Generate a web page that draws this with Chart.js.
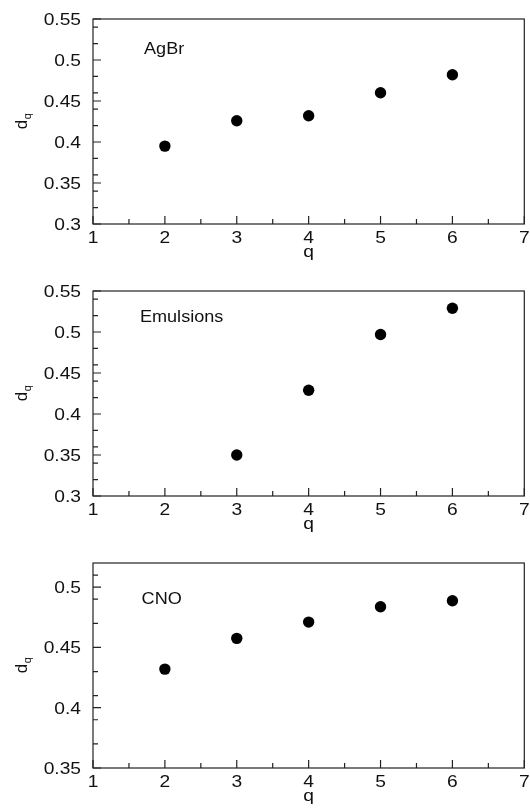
<!DOCTYPE html>
<html lang="en">
<head>
  <meta charset="UTF-8">
  <title>d_q versus q</title>
  <script src="https://cdn.jsdelivr.net/npm/chart.js"></script>
  <style>
    body {
      margin: 0;
      background: #ffffff;
    }
    .panel {
      position: absolute;
      left: 0;
      width: 530px;
      height: 272px;
    }
  </style>
</head>
<body>
  <div class="panel" style="top:0px"><canvas id="agbr" width="530" height="272"></canvas></div>
  <div class="panel" style="top:272px"><canvas id="emul" width="530" height="272"></canvas></div>
  <div class="panel" style="top:544px"><canvas id="cno" width="530" height="272"></canvas></div>

  <script>
    // q values and d_q for each target group
    const agbrQ = [2, 3, 4, 5, 6];
    const agbrD = [0.395, 0.426, 0.432, 0.460, 0.482];

    const emulQ = [3, 4, 5, 6];
    const emulD = [0.350, 0.429, 0.497, 0.529];

    const cnoQ = [2, 3, 4, 5, 6];
    const cnoD = [0.432, 0.4575, 0.471, 0.4837, 0.4887];

    // axis ticks (major ones get labels)
    const qMajor = [1, 2, 3, 4, 5, 6, 7];
    const qMinor = [1.5, 2.5, 3.5, 4.5, 5.5, 6.5];

    const dMajorA = [0.3, 0.35, 0.4, 0.45, 0.5, 0.55];
    const dMinorA = [0.32, 0.34, 0.36, 0.38, 0.42, 0.44, 0.46, 0.48, 0.52, 0.54];

    const dMajorC = [0.35, 0.4, 0.45, 0.5];
    const dMinorC = [0.37, 0.39, 0.41, 0.43, 0.47, 0.49, 0.51];

    const FONT = '"Liberation Sans", Arial, Helvetica, sans-serif';
    const INK = '#111';
    const WIDE = 1.2;   // the plot's lettering is set a bit wide

    function tickList(major, minor) {
      return major.concat(minor).sort((a, b) => a - b).map(v => ({ value: v }));
    }

    function isMajor(list, v) {
      return list.some(m => Math.abs(m - v) < 1e-9);
    }

    function wideText(ctx, text, x, y, align, size, sx) {
      ctx.save();
      ctx.translate(x, y);
      ctx.scale(sx, 1);
      ctx.font = size + 'px ' + FONT;
      ctx.textAlign = align;
      ctx.textBaseline = 'alphabetic';
      ctx.fillText(text, 0, 0);
      ctx.restore();
    }

    // frame, inward ticks, tick labels, axis titles and the panel name
    const panelDecor = {
      id: 'panelDecor',
      afterDraw(chart, args, opts) {
        const ctx = chart.ctx;
        const a = chart.chartArea;
        const xs = chart.scales.x;
        const ys = chart.scales.y;
        ctx.save();
        ctx.strokeStyle = '#222';
        ctx.lineWidth = 1.2;
        ctx.strokeRect(a.left, a.top, a.right - a.left, a.bottom - a.top);

        ctx.beginPath();
        xs.ticks.forEach(t => {
          const px = xs.getPixelForValue(t.value);
          const len = isMajor(qMajor, t.value) ? 8 : 5;
          ctx.moveTo(px, a.bottom);
          ctx.lineTo(px, a.bottom - len);
        });
        ys.ticks.forEach(t => {
          const py = ys.getPixelForValue(t.value);
          const len = isMajor(opts.yMajor, t.value) ? 8 : 5;
          ctx.moveTo(a.left, py);
          ctx.lineTo(a.left + len, py);
        });
        ctx.stroke();

        ctx.fillStyle = INK;

        // tick labels
        xs.ticks.forEach(t => {
          if (!isMajor(qMajor, t.value)) return;
          wideText(ctx, String(t.value), xs.getPixelForValue(t.value), a.bottom + 19, 'center', 16, WIDE);
        });
        ys.ticks.forEach(t => {
          if (!isMajor(opts.yMajor, t.value)) return;
          const label = String(Number(t.value.toFixed(2)));
          wideText(ctx, label, a.left - 12, ys.getPixelForValue(t.value) + 5.8, 'right', 16, WIDE);
        });

        // x title
        wideText(ctx, 'q', (a.left + a.right) / 2, a.bottom + 33, 'center', 16, WIDE);

        // y title: d with subscript q, rotated
        ctx.save();
        ctx.translate(27, (a.top + a.bottom) / 2);
        ctx.rotate(-Math.PI / 2);
        ctx.textAlign = 'left';
        ctx.textBaseline = 'alphabetic';
        ctx.font = '17px ' + FONT;
        const wd = ctx.measureText('d').width;
        ctx.font = '11px ' + FONT;
        const wq = ctx.measureText('q').width;
        const start = -(wd + wq) / 2;
        ctx.font = '17px ' + FONT;
        ctx.fillText('d', start, 0);
        ctx.font = '11px ' + FONT;
        ctx.fillText('q', start + wd + 0.5, 4);
        ctx.restore();

        // panel name inside the plot
        wideText(ctx, opts.name, xs.getPixelForValue(opts.nameAt[0]), ys.getPixelForValue(opts.nameAt[1]), 'left', 16, 1.13);
        ctx.restore();
      }
    };

    function makePanel(id, qs, ds, yMin, yMax, yMajor, yMinor, name, nameAt) {
      const points = qs.map((q, i) => ({ x: q, y: ds[i] }));
      return new Chart(document.getElementById(id), {
        type: 'scatter',
        data: {
          datasets: [{
            data: points,
            backgroundColor: '#000',
            borderWidth: 0,
            pointRadius: 5.7,
            pointHoverRadius: 5.7
          }]
        },
        options: {
          responsive: false,
          animation: false,
          layout: { padding: { top: 19, right: 5, bottom: 0, left: 0 } },
          plugins: {
            legend: { display: false },
            tooltip: { enabled: false },
            panelDecor: { name: name, nameAt: nameAt, yMajor: yMajor }
          },
          scales: {
            x: {
              type: 'linear',
              min: 1,
              max: 7,
              afterBuildTicks: s => { s.ticks = tickList(qMajor, qMinor); },
              afterFit: s => { s.height = 48; },
              grid: { display: false, drawTicks: false },
              border: { display: false },
              ticks: { display: false, autoSkip: false }
            },
            y: {
              type: 'linear',
              min: yMin,
              max: yMax,
              afterBuildTicks: s => { s.ticks = tickList(yMajor, yMinor); },
              afterFit: s => { s.width = 93; },
              grid: { display: false, drawTicks: false },
              border: { display: false },
              ticks: { display: false, autoSkip: false }
            }
          }
        },
        plugins: [panelDecor]
      });
    }

    makePanel('agbr', agbrQ, agbrD, 0.3, 0.55, dMajorA, dMinorA, 'AgBr', [1.71, 0.507]);
    makePanel('emul', emulQ, emulD, 0.3, 0.55, dMajorA, dMinorA, 'Emulsions', [1.653, 0.5126]);
    makePanel('cno', cnoQ, cnoD, 0.35, 0.52, dMajorC, dMinorC, 'CNO', [1.676, 0.4856]);
  </script>
</body>
</html>
